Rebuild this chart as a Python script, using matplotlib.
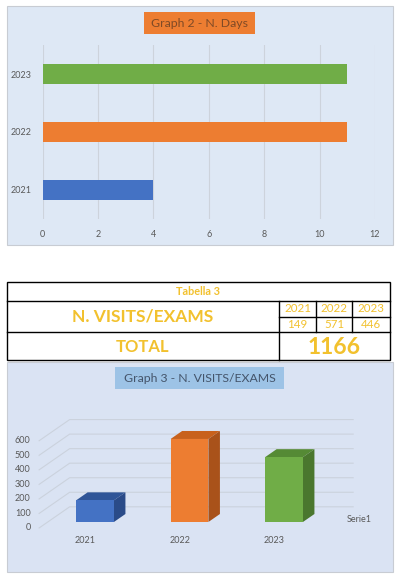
import matplotlib
matplotlib.use("Agg")
import matplotlib.pyplot as plt
from matplotlib.patches import Rectangle, Polygon

plt.rcParams['font.family'] = ['Lato', 'DejaVu Sans']

# data
years = ['2021', '2022', '2023']
days = [4, 11, 11]
visits = [149, 571, 446]
day_ticks = [0, 2, 4, 6, 8, 10, 12]
visit_ticks = [0, 100, 200, 300, 400, 500, 600]
table_title = 'Tabella 3'
row_label = 'N. VISITS/EXAMS'
total_label = 'TOTAL'
total_value = sum(visits)

front_cols = ['#4472c4', '#ed7d31', '#70ad47']
top_cols = ['#2f5597', '#c8611c', '#558a35']
side_cols = ['#2a4b88', '#a9521a', '#4a772e']
gold = '#f2c12e'
tick_grey = '#595959'

W, H = 403, 578
fig = plt.figure(figsize=(W / 100, H / 100), dpi=100)
fig.patch.set_facecolor('white')

# background layer in pixel coords
bg = fig.add_axes([0, 0, 1, 1])
bg.set_xlim(0, W)
bg.set_ylim(H, 0)
bg.axis('off')

# top panel
bg.add_patch(Rectangle((7, 6), 386, 239, facecolor='#dee8f5', edgecolor='#c8ccd3', lw=0.8))
bg.add_patch(Rectangle((144, 12), 111, 22, facecolor='#ed7d31', edgecolor='none'))
bg.text(199.5, 23.5, 'Graph 2 - N. Days', ha='center', va='center', fontsize=8.8, color='#7f4a26')

# table
lw = 1.0
bg.add_patch(Rectangle((7, 282), 383, 78, facecolor='white', edgecolor='black', lw=lw))
bg.plot([7, 390], [300.5, 300.5], color='black', lw=lw)
bg.plot([7, 390], [332, 332], color='black', lw=lw)
bg.plot([279, 279], [300.5, 360], color='black', lw=lw)
bg.plot([316, 316], [300.5, 332], color='black', lw=lw)
bg.plot([352, 352], [300.5, 332], color='black', lw=lw)
bg.plot([279, 390], [316.5, 316.5], color='black', lw=lw)
bg.text(198, 291.5, table_title, ha='center', va='center', fontsize=7.8, fontweight='bold', color=gold)
bg.text(143, 317, row_label, ha='center', va='center', fontsize=12.5, fontweight='bold', color=gold)
bg.text(143, 347, total_label, ha='center', va='center', fontsize=12, fontweight='bold', color=gold)
bg.text(334.5, 347, str(total_value), ha='center', va='center', fontsize=16.5, fontweight='bold', color=gold)
col_mid = [297.5, 334, 371]
for i in range(3):
    bg.text(col_mid[i], 308.5, years[i], ha='center', va='center', fontsize=8.3, color=gold)
    bg.text(col_mid[i], 324.5, str(visits[i]), ha='center', va='center', fontsize=8.3, color=gold)

# bottom panel
bg.add_patch(Rectangle((7, 362), 386, 210, facecolor='#dae3f3', edgecolor='#c8ccd3', lw=0.8))
bg.add_patch(Rectangle((115, 367), 169, 22, facecolor='#9dc3e6', edgecolor='none'))
bg.text(199.5, 378.5, 'Graph 3 - N. VISITS/EXAMS', ha='center', va='center', fontsize=8.8, color='#44546a')

# Graph 2: horizontal bars
ax1 = fig.add_axes([42.5 / W, 1 - 219 / H, 332.5 / W, 174 / H])
ax1.set_facecolor('none')
ax1.barh(range(3), days, height=0.36, color=front_cols, zorder=3)
ax1.set_xlim(0, 12)
ax1.set_ylim(-0.5, 2.5)
ax1.set_xticks(day_ticks)
ax1.set_yticks(range(3))
ax1.set_yticklabels(years)
ax1.grid(axis='x', color='#cdd3dc', lw=0.8, zorder=0)
ax1.tick_params(length=0, labelsize=6.5, labelcolor=tick_grey)
ax1.tick_params(axis='x', pad=8)
ax1.tick_params(axis='y', pad=8)
for s in ax1.spines.values():
    s.set_visible(False)

# Graph 3: pseudo 3D columns
ax2 = fig.add_axes([7 / W, 1 - 572 / H, 386 / W, 210 / H])
ax2.set_facecolor('none')
ax2.axis('off')
x_px, v_px = 94.5, 0.1454
ax2.set_xlim((7 - 95) / x_px, (393 - 95) / x_px)
ax2.set_ylim((522 - 572) / v_px, (522 - 362) / v_px)

DX, DY = 0.122, 55.0
BACK, FRONT = 1.9, -0.75


def proj(x, v, d):
    return (x + d * DX, v + d * DY)


for g in visit_ticks:
    a = proj(-0.5, g, FRONT)
    b = proj(-0.5, g, BACK)
    c = proj(2.5, g, BACK)
    ax2.plot([a[0], b[0], c[0]], [a[1], b[1], c[1]], color='#cbd2dd', lw=0.8, zorder=1)
    ax2.text(a[0] - 0.09, a[1], str(g), ha='right', va='center', fontsize=6.5, color=tick_grey)

bw = 0.4
for i, v in enumerate(visits):
    x0, x1 = i - bw / 2, i + bw / 2
    ax2.bar(i, v, width=bw, color=front_cols[i], zorder=4)
    ax2.add_patch(Polygon([proj(x0, v, 0), proj(x1, v, 0), proj(x1, v, 1), proj(x0, v, 1)],
                          closed=True, facecolor=top_cols[i], edgecolor='none', zorder=3))
    ax2.add_patch(Polygon([proj(x1, 0, 0), proj(x1, v, 0), proj(x1, v, 1), proj(x1, 0, 1)],
                          closed=True, facecolor=side_cols[i], edgecolor='none', zorder=3))
    ax2.text(i - 0.1, -124, years[i], ha='center', va='center', fontsize=6.5, color=tick_grey)

ax2.text(2.8, 20, 'Serie1', ha='center', va='center', fontsize=6.5, color=tick_grey)

fig.savefig('out.png', dpi=100)
